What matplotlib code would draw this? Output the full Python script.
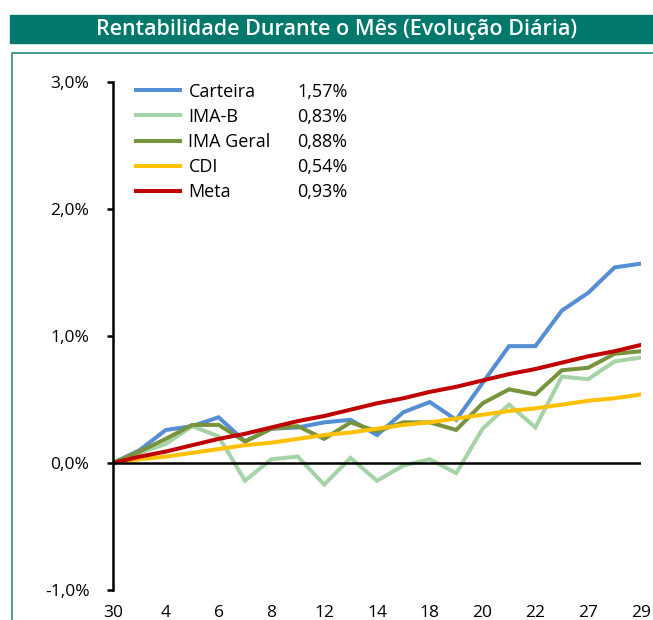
import matplotlib
matplotlib.use('Agg')
import matplotlib.pyplot as plt
from matplotlib.patches import Rectangle
from matplotlib.ticker import FuncFormatter, MultipleLocator

plt.rcParams['font.family'] = ['Open Sans', 'DejaVu Sans']

# dias do mes (eixo x)
DAYS = ['30', '1', '4', '5', '6', '7', '8', '11', '12', '13', '14',
        '15', '18', '19', '20', '21', '22', '26', '27', '28', '29']

# rentabilidade acumulada (%)
CARTEIRA = [0.00, 0.10, 0.26, 0.29, 0.36, 0.17, 0.27, 0.28, 0.32, 0.34, 0.22,
            0.40, 0.48, 0.34, 0.63, 0.92, 0.92, 1.20, 1.34, 1.54, 1.57]
IMA_B = [0.00, 0.08, 0.15, 0.29, 0.21, -0.14, 0.03, 0.05, -0.17, 0.04, -0.14,
         -0.02, 0.03, -0.08, 0.27, 0.46, 0.28, 0.68, 0.66, 0.80, 0.83]
IMA_GERAL = [0.00, 0.09, 0.19, 0.30, 0.30, 0.17, 0.27, 0.29, 0.19, 0.32, 0.25,
             0.32, 0.32, 0.26, 0.47, 0.58, 0.54, 0.73, 0.75, 0.86, 0.88]
CDI = [0.00, 0.03, 0.05, 0.08, 0.11, 0.14, 0.16, 0.19, 0.22, 0.24, 0.27,
       0.30, 0.32, 0.35, 0.38, 0.41, 0.43, 0.46, 0.49, 0.51, 0.54]
META = [0.00, 0.05, 0.09, 0.14, 0.19, 0.23, 0.28, 0.33, 0.37, 0.42, 0.47,
        0.51, 0.56, 0.60, 0.65, 0.70, 0.74, 0.79, 0.84, 0.88, 0.93]

SERIES = [
    ('Carteira', CARTEIRA, '#558ED5'),
    ('IMA-B', IMA_B, '#A6D3A6'),
    ('IMA Geral', IMA_GERAL, '#77933C'),
    ('CDI', CDI, '#FFC000'),
    ('Meta', META, '#C00000'),
]

fig = plt.figure(figsize=(6.53, 6.2), dpi=100)

# faixa do titulo
fig.patches.append(Rectangle((10 / 653, 1 - 43 / 620), 1, 28 / 620,
                             transform=fig.transFigure, color='#00786B', zorder=0))
fig.text(337 / 653, 1 - 29 / 620, 'Rentabilidade Durante o Mês (Evolução Diária)',
         color='white', fontsize=15.5, fontweight='semibold', ha='center', va='center')
# moldura
fig.patches.append(Rectangle((12 / 653, -0.1), 1, 1 - 53 / 620 + 0.1,
                             transform=fig.transFigure, fill=False,
                             edgecolor='#2A8C80', lw=1.2, zorder=0))

ax = fig.add_axes([113 / 653, 1 - 590 / 620, 528 / 653, 508 / 620])
x = list(range(len(DAYS)))
handles = []
for name, vals, color in SERIES:
    h, = ax.plot(x, vals, color=color, lw=2.9, solid_joinstyle='miter', zorder=3)
    handles.append(h)

ax.axhline(0, color='black', lw=1.8, zorder=4)
ax.set_xlim(0, len(DAYS) - 1)
ax.set_ylim(-1, 3)
ax.yaxis.set_major_locator(MultipleLocator(1))
ax.yaxis.set_major_formatter(FuncFormatter(lambda v, p: '{:.1f}%'.format(v).replace('.', ',')))
ax.set_xticks(x[::2])
ax.set_xticklabels(DAYS[::2])
for s in ['top', 'right', 'bottom']:
    ax.spines[s].set_visible(False)
ax.spines['left'].set_linewidth(1.8)
ax.spines['left'].set_zorder(5)
ax.tick_params(axis='y', length=4, width=1.8, pad=13, labelsize=12.5)
ax.tick_params(axis='x', length=0, pad=11, labelsize=12.5)

vals_txt = ['{:.2f}%'.format(v[-1]).replace('.', ',') for _, v, _ in SERIES]
leg1 = ax.legend(handles, [n for n, _, _ in SERIES], loc='upper left',
                 bbox_to_anchor=(0.013, 1.031), frameon=False, fontsize=13,
                 handlelength=2.45, handletextpad=0.45, labelspacing=0.4)
ax.add_artist(leg1)
blank = [plt.Line2D([], [], lw=0) for _ in SERIES]
ax.legend(blank, vals_txt, loc='upper left', bbox_to_anchor=(0.318, 1.031),
          frameon=False, fontsize=13, handlelength=0, handletextpad=0,
          labelspacing=0.4)

fig.savefig('out.png', dpi=100)
